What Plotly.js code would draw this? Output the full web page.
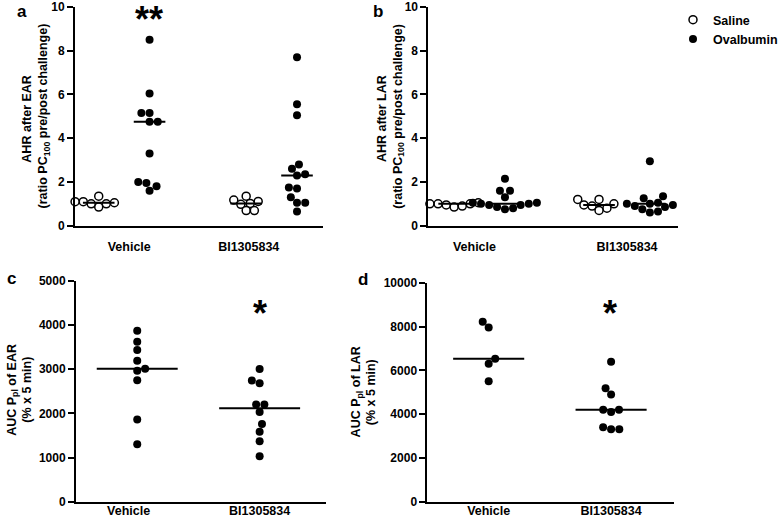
<!DOCTYPE html>
<html><head><meta charset="utf-8">
<script src="https://cdn.plot.ly/plotly-3.0.1.min.js"></script>
<style>html,body{margin:0;padding:0;background:#fff}#chart{width:783px;height:521px}</style>
</head><body><div id="chart"></div>
<script>
// ---------- data ----------
const groupLabels = ['Vehicle', 'BI1305834'];
const seriesNames = ['Saline', 'Ovalbumin'];
const yTicksAHR = [0, 2, 4, 6, 8, 10];
const yTicksEAR = [0, 1000, 2000, 3000, 4000, 5000];
const yTicksLAR = [0, 2000, 4000, 6000, 8000, 10000];
// panel a: AHR after EAR
const aSalineVeh = [1.10, 1.00, 0.85, 1.00, 1.05, 1.10, 1.35];
const aOvaVeh    = [8.5, 6.05, 5.15, 5.15, 4.75, 4.75, 3.3, 2.0, 1.95, 1.8, 1.6];
const aSalineBI  = [1.35, 1.17, 1.11, 1.02, 0.98, 0.69, 0.69];
const aOvaBI     = [7.7, 5.55, 5.05, 2.8, 2.6, 2.35, 2.3, 1.75, 1.7, 1.3, 1.05, 1.05, 0.65];
// panel b: AHR after LAR
const bSalineVeh = [1.05, 1.0, 0.95, 0.85, 0.9, 1.0, 1.0];
const bOvaVeh    = [2.15, 1.6, 1.6, 1.3, 1.05, 1.05, 1.0, 1.0, 0.95, 0.95, 0.85, 0.8, 0.75];
const bSalineBI  = [1.2, 1.2, 1.0, 0.95, 0.9, 0.8, 0.7];
const bOvaBI     = [2.95, 1.35, 1.25, 1.1, 1.05, 1.0, 1.0, 0.95, 0.9, 0.85, 0.75, 0.65, 0.6];
// panel c: AUC Ppl of EAR
const cVeh = [3870, 3620, 3430, 3190, 3010, 2960, 2750, 1860, 1300];
const cBI  = [3000, 2740, 2680, 2200, 2200, 2030, 1760, 1580, 1370, 1030];
// panel d: AUC Ppl of LAR
const dVeh = [8220, 7960, 6530, 6300, 5500];
const dBI  = [6390, 5180, 4900, 4200, 4200, 4100, 3400, 3310, 3310];

// ---------- layout helpers ----------
const W = 783, H = 521;
const FONT = 'Liberation Sans, Arial, sans-serif';
const TXT = 12.5;
const fx = p => p / W, fy = p => 1 - p / H;

function median(v) {
  const s = [...v].sort((a, b) => a - b), n = s.length;
  return n % 2 ? s[(n - 1) / 2] : (s[n / 2 - 1] + s[n / 2]) / 2;
}
// greedy beeswarm: returns pixel x offsets
function swarm(vals, pxPerY, D) {
  const idx = vals.map((v, i) => i).sort((a, b) => vals[a] - vals[b]);
  const placed = [], off = new Array(vals.length).fill(0);
  for (const i of idx) {
    const y = vals[i] * pxPerY;
    const cands = [0];
    for (const p of placed) {
      const dy = y - p.y;
      if (Math.abs(dy) < D) { const dx = Math.sqrt(D * D - dy * dy); cands.push(p.x + dx + 0.01, p.x - dx - 0.01); }
    }
    const bias = placed.reduce((s, p) => s + p.x, 0);
    cands.sort((a, b) => (Math.abs(a) - Math.abs(b)) || (bias > 0 ? a - b : b - a));
    for (const c of cands) {
      if (placed.every(p => (p.x - c) ** 2 + (p.y - y) ** 2 >= D * D - 0.05)) { off[i] = c; break; }
    }
    placed.push({ x: off[i], y });
  }
  return off;
}

const panels = [
  { px: [76, 327], py: [7, 225.7], yr: [0, 10.0005], ticks: yTicksAHR, unit: 51.5, start: 24, half: 16,
    groups: [[aSalineVeh, 0, true], [aOvaVeh, 1, false], [aSalineBI, 2.9, true], [aOvaBI, 3.9, false]],
    tickvals: [0.6, 2.95] },
  { px: [434, 687], py: [7, 225.7], yr: [0, 10.0005], ticks: yTicksAHR, unit: 51.5, start: 26, half: 16,
    groups: [[bSalineVeh, 0, true], [bOvaVeh, 1, false], [bSalineBI, 2.85, true], [bOvaBI, 3.85, false]],
    tickvals: [0.4, 3.4] },
  { px: [77, 330], py: [280.7, 501.7], yr: [0, 5000.2], ticks: yTicksEAR, unit: 124, start: 62, half: 41,
    groups: [[cVeh, 0, false], [cBI, 1, false]], tickvals: [-0.07, 1] },
  { px: [433, 683], py: [282.7, 501.7], yr: [0, 10000.4], ticks: yTicksLAR, unit: 124, start: 62, half: 36,
    groups: [[dVeh, 0, false], [dBI, 1, false]], tickvals: [0, 1] }
];

const traces = [];
const layout = {
  width: W, height: H, margin: { l: 0, r: 0, t: 0, b: 0 },
  paper_bgcolor: '#fff', plot_bgcolor: '#fff',
  font: { family: FONT, size: TXT, color: '#000', weight: 'bold' },
  showlegend: true,
  legend: { x: fx(682), xanchor: 'left', y: fy(5), yanchor: 'top', bgcolor: 'rgba(0,0,0,0)',
            font: { family: FONT, size: TXT, color: '#000', weight: 'bold' } },
  annotations: [], shapes: []
};

panels.forEach((P, k) => {
  const n = k + 1, xs = n === 1 ? '' : String(n);
  const xname = 'x' + xs, yname = 'y' + xs;
  const pxPerY = (P.py[1] - P.py[0]) / (P.yr[1] - P.yr[0]);
  const len = P.px[1] - P.px[0];
  layout['xaxis' + xs] = {
    domain: [fx(P.px[0]), fx(P.px[1])], anchor: yname,
    range: [-P.start / P.unit, (len - P.start) / P.unit],
    showline: true, linewidth: 2, linecolor: '#000', showgrid: false, zeroline: false,
    ticks: 'outside', ticklen: k < 2 ? 8 : 0, tickcolor: 'rgba(0,0,0,0)',
    ticklabelstandoff: k < 2 ? 0 : -4, ticklabeloverflow: 'allow',
    tickvals: P.tickvals, ticktext: groupLabels,
    tickfont: { family: FONT, size: TXT, color: '#000', weight: 'bold' }, fixedrange: true
  };
  layout['yaxis' + xs] = {
    domain: [fy(P.py[1]), fy(P.py[0])], anchor: xname, range: P.yr,
    tickvals: P.ticks, ticktext: P.ticks.map(String), ticklabeloverflow: 'allow',
    showline: true, linewidth: 2, linecolor: '#000', showgrid: false, zeroline: false,
    ticks: 'outside', ticklen: 6, tickwidth: 2, tickcolor: '#000',
    tickfont: { family: FONT, size: 12, color: '#000', weight: 'bold' }, fixedrange: true
  };
  P.groups.forEach(([vals, pos, open], gi) => {
    const off = swarm(vals, pxPerY, 8.3);
    const first = (k === 0 && gi < 2);
    traces.push({
      type: 'scatter', mode: 'markers', xaxis: xname, yaxis: yname,
      x: vals.map((v, i) => pos + off[i] / P.unit), y: vals,
      name: open ? seriesNames[0] : seriesNames[1], showlegend: first, cliponaxis: false,
      marker: open ? { size: 8, color: '#fff', line: { color: '#000', width: 1.5 } }
                   : { size: 8, color: '#000', line: { color: '#000', width: 0 } },
      hoverinfo: 'y'
    });
  });
  P.groups.forEach(([vals, pos]) => {
    const m = median(vals), h = P.half / P.unit;
    traces.push({ type: 'scatter', mode: 'lines', xaxis: xname, yaxis: yname,
      x: [pos - h, pos + h], y: [m, m], showlegend: false, hoverinfo: 'skip',
      line: { color: '#000', width: 2 } });
  });
});

function ann(text, x, y, size, angle) {
  layout.annotations.push({ text, xref: 'paper', yref: 'paper', x: fx(x), y: fy(y),
    xanchor: 'center', yanchor: 'middle', showarrow: false, textangle: angle || 0,
    font: { family: FONT, size, color: '#000', weight: 'bold' } });
}
// y axis titles
ann('AHR after EAR', 27, 119, TXT, -90);
ann('(ratio PC<sub>100</sub> pre/post challenge)', 45, 116, TXT, -90);
ann('AHR after LAR', 387, 119, TXT, -90);
ann('(ratio PC<sub>100</sub> pre/post challenge)', 404, 116, TXT, -90);
ann('AUC P<sub>pl</sub> of EAR', 13, 390, TXT, -90);
ann('(% x 5 min)', 27, 390, TXT, -90);
ann('AUC P<sub>pl</sub> of LAR', 362, 392, TXT, -90);
ann('(% x 5 min)', 376, 392, TXT, -90);
// panel letters
ann('a', 22, 11, 17); ann('b', 383, 12, 17); ann('c', 12, 278, 17); ann('d', 368, 279, 17);
// significance stars
ann('**', 151, 20, 36); ann('*', 263, 313, 36); ann('*', 618, 313, 36);

Plotly.newPlot('chart', traces, layout, { displayModeBar: false, staticPlot: true });
</script></body></html>
